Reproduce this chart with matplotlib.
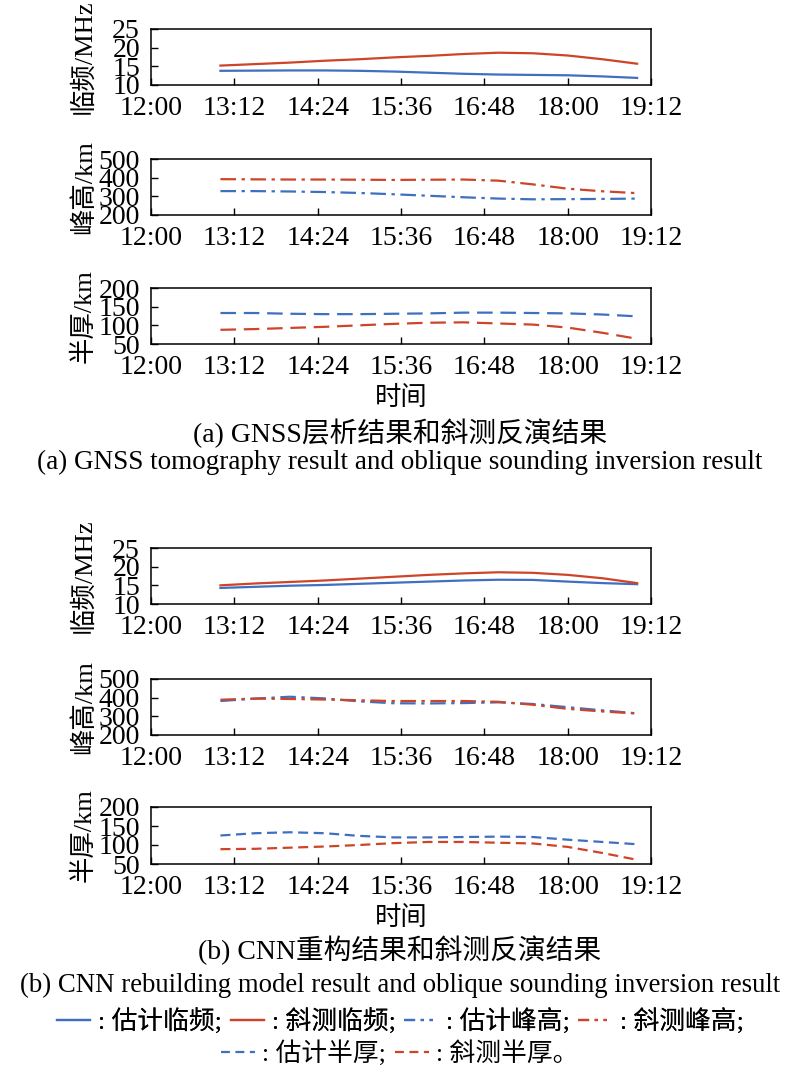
import matplotlib
matplotlib.use("Agg")
import matplotlib.pyplot as plt
from matplotlib.lines import Line2D
import numpy as np

plt.rcParams['font.family'] = ['Liberation Serif', 'Noto Sans CJK SC', 'DejaVu Sans']
plt.rcParams['axes.unicode_minus'] = False

# time in hours
times = [13.0, 13.5, 14.0, 14.5, 15.0, 15.5, 16.0, 16.5, 17.0, 17.5, 18.0, 18.5, 19.0]
xtick_vals = [12.0, 13.2, 14.4, 15.6, 16.8, 18.0, 19.2]
xtick_labels = ["12:00", "13:12", "14:24", "15:36", "16:48", "18:00", "19:12"]

# (a) GNSS tomography vs oblique sounding
a_fof2_est = [13.8, 13.85, 13.9, 13.9, 13.8, 13.6, 13.3, 13.0, 12.8, 12.7, 12.6, 12.3, 11.9]
a_fof2_obl = [15.2, 15.6, 16.0, 16.5, 16.9, 17.4, 17.8, 18.3, 18.65, 18.5, 17.9, 16.9, 15.7]
a_hmf2_est = [328, 328, 326, 323, 318, 311, 303, 295, 288, 284, 285, 286, 288]
a_hmf2_obl = [392, 391, 390, 390, 389, 388, 389, 390, 384, 364, 341, 327, 317]
a_ym_est = [133, 133, 131, 130, 130, 131, 132, 134, 134, 133, 132, 129, 124]
a_ym_obl = [88, 90, 93, 96, 100, 104, 107, 108, 105, 102, 94, 80, 64]

# (b) CNN rebuilding vs oblique sounding
b_fof2_est = [14.3, 14.6, 14.9, 15.1, 15.4, 15.7, 16.0, 16.3, 16.5, 16.45, 16.0, 15.6, 15.3]
b_fof2_obl = [15.0, 15.5, 15.9, 16.3, 16.8, 17.3, 17.8, 18.2, 18.5, 18.35, 17.8, 16.9, 15.6]
b_hmf2_est = [382, 395, 405, 396, 380, 370, 369, 371, 375, 366, 349, 332, 316]
b_hmf2_obl = [389, 395, 393, 390, 386, 382, 382, 382, 378, 362, 340, 326, 315]
b_ym_est = [125, 131, 133.5, 131, 124, 120, 120, 121, 122, 121, 114, 108, 102]
b_ym_obl = [89, 90, 93, 96, 100, 105, 108, 108, 106, 104, 95, 79, 61]

ylabels = ["临频/MHz", "峰高/km", "半厚/km"]
yticks = [[10, 15, 20, 25], [200, 300, 400, 500], [50, 100, 150, 200]]

BLUE = '#3F6FC0'
RED = '#CE4428'
LW = 1.6

dashdot = (0, (7, 2.5, 1.5, 2.5))
dash_a = (0, (7, 3.5))
dash_b = (0, (4.5, 2.5))

W, H = 800, 1073
fig = plt.figure(figsize=(W / 100, H / 100), dpi=100)

def add_ax(top, bottom):
    return fig.add_axes([151 / W, 1 - bottom / H, 500 / W, (bottom - top) / H])

panels = [
    (29, 85, a_fof2_est, a_fof2_obl, '-', 0),
    (159, 215, a_hmf2_est, a_hmf2_obl, dashdot, 1),
    (288, 344, a_ym_est, a_ym_obl, dash_a, 2),
    (548, 604, b_fof2_est, b_fof2_obl, '-', 0),
    (679, 735, b_hmf2_est, b_hmf2_obl, dashdot, 1),
    (807, 864, b_ym_est, b_ym_obl, dash_b, 2),
]

for top, bottom, est, obl, ls, kind in panels:
    ax = add_ax(top, bottom)
    ax.plot(times, est, color=BLUE, lw=LW, linestyle=ls)
    ax.plot(times, obl, color=RED, lw=LW, linestyle=ls)
    ax.set_xlim(12.0, 19.2)
    ax.set_ylim(yticks[kind][0], yticks[kind][-1])
    ax.set_xticks(xtick_vals)
    ax.set_xticklabels(xtick_labels)
    ax.set_yticks(yticks[kind])
    ax.tick_params(direction='in', length=5, width=1, labelsize=20, top=False, right=False)
    ax.tick_params(axis='y', pad=8)
    ax.tick_params(axis='x', pad=8)
    for sp in ax.spines.values():
        sp.set_linewidth(1.1)
    ax.set_ylabel(ylabels[kind], fontsize=19)
    ax.yaxis.set_label_coords(-0.11, 0.5)
    if kind == 2:
        ax.set_xlabel("时间", fontsize=19, labelpad=4)

fig.text(0.5, 1 - 433 / H, "(a) GNSS层析结果和斜测反演结果", ha='center', va='center', fontsize=20)
fig.text(0.5, 1 - 462 / H, "(a) GNSS tomography result and oblique sounding inversion result",
         ha='center', va='center', fontsize=19.5)
fig.text(0.5, 1 - 950 / H, "(b) CNN重构结果和斜测反演结果", ha='center', va='center', fontsize=20)
fig.text(0.5, 1 - 985 / H, "(b) CNN rebuilding model result and oblique sounding inversion result",
         ha='center', va='center', fontsize=19.3)

h1 = [Line2D([], [], color=BLUE, lw=LW, ls='-'),
      Line2D([], [], color=RED, lw=LW, ls='-'),
      Line2D([], [], color=BLUE, lw=LW, ls=(0, (5, 2.5, 1.5, 2.5, 1.5, 2.5))),
      Line2D([], [], color=RED, lw=LW, ls=(0, (5, 2.5, 1.5, 2.5, 1.5, 2.5)))]
l1 = [": 估计临频;", ": 斜测临频;", ": 估计峰高;", ": 斜测峰高;"]
h2 = [Line2D([], [], color=BLUE, lw=LW, ls=(0, (4, 2.5))),
      Line2D([], [], color=RED, lw=LW, ls=(0, (4, 2.5)))]
l2 = [": 估计半厚;", ": 斜测半厚。"]

leg1 = fig.legend(h1, l1, loc='center', bbox_to_anchor=(0.5, 1 - 1021 / H), ncol=4,
                  frameon=False, fontsize=18.5, handlelength=1.3, handletextpad=0.3,
                  columnspacing=0.35, borderpad=0, borderaxespad=0)
fig.add_artist(leg1)
leg2 = fig.legend(h2, l2, loc='center', bbox_to_anchor=(0.5, 1 - 1053 / H), ncol=2,
                  frameon=False, fontsize=18.5, handlelength=1.3, handletextpad=0.3,
                  columnspacing=0.35, borderpad=0, borderaxespad=0)

fig.savefig("out.png", dpi=100)
